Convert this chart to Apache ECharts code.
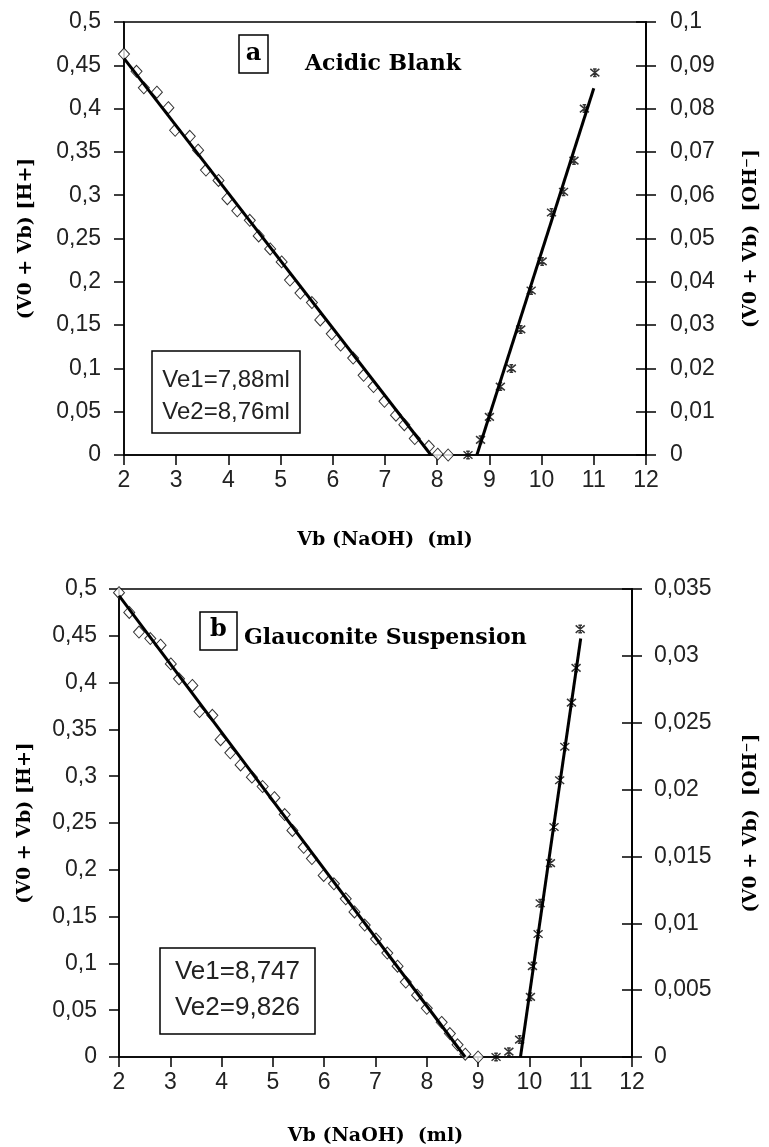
<!DOCTYPE html>
<html>
<head>
<meta charset="utf-8">
<script src="https://cdn.jsdelivr.net/npm/echarts@6/dist/echarts.min.js"></script>
<style>
html,body{margin:0;padding:0;background:#fff;}
#chart{width:769px;height:1147px;}
</style>
</head>
<body>
<div id="chart"></div>
<script>
// ---- data ----
var xTicks = [2,3,4,5,6,7,8,9,10,11,12];

// Chart a: Acidic Blank
var blankH = [[2.0,0.463],[2.24,0.443],[2.38,0.424],[2.63,0.419],[2.85,0.401],[2.98,0.375],[3.26,0.368],[3.42,0.352],[3.57,0.329],[3.81,0.317],[3.98,0.296],[4.17,0.282],[4.41,0.271],[4.58,0.253],[4.80,0.238],[5.02,0.223],[5.18,0.202],[5.38,0.187],[5.60,0.176],[5.76,0.156],[5.98,0.140],[6.15,0.127],[6.39,0.112],[6.59,0.092],[6.78,0.079],[6.99,0.062],[7.21,0.046],[7.37,0.035],[7.57,0.019],[7.84,0.010],[8.01,0.001],[8.21,0.0]];
var blankOH = [[8.59,0],[8.83,0.0035],[9.0,0.0088],[9.21,0.0158],[9.42,0.020],[9.60,0.029],[9.80,0.038],[10.01,0.0447],[10.19,0.056],[10.42,0.0608],[10.62,0.068],[10.82,0.080],[11.02,0.0883]];
var blankFitH = [[2,0.458],[7.88,0]];
var blankFitOH = [[8.76,0],[11,0.0847]];
var blankVe = ['Ve1=7,88ml','Ve2=8,76ml'];

// Chart b: Glauconite Suspension
var glauH = [[2.0,0.496],[2.20,0.475],[2.39,0.454],[2.61,0.447],[2.81,0.440],[3.01,0.420],[3.17,0.404],[3.43,0.397],[3.57,0.369],[3.82,0.365],[3.98,0.339],[4.17,0.325],[4.37,0.312],[4.59,0.299],[4.80,0.289],[5.03,0.277],[5.23,0.259],[5.38,0.242],[5.60,0.224],[5.76,0.212],[5.99,0.194],[6.19,0.185],[6.42,0.169],[6.59,0.155],[6.79,0.141],[7.01,0.126],[7.23,0.111],[7.43,0.097],[7.59,0.080],[7.81,0.066],[8.00,0.052],[8.29,0.037],[8.45,0.025],[8.60,0.013],[8.75,0.003],[9.0,0.0]];
var glauOH = [[9.35,0],[9.60,0.0004],[9.81,0.0013],[10.02,0.0045],[10.06,0.0068],[10.17,0.0092],[10.21,0.0115],[10.41,0.0145],[10.48,0.0172],[10.59,0.0207],[10.69,0.0232],[10.82,0.0265],[10.91,0.0291],[10.99,0.0320]];
var glauFitH = [[2,0.493],[8.747,0]];
var glauFitOH = [[9.826,0],[11,0.0313]];
var glauVe = ['Ve1=8,747','Ve2=9,826'];

var leftName = '(V0 + Vb) [H+]';
var rightName = '(V0 + Vb)  [OH\u207B]';
var xName = 'Vb (NaOH)  (ml)';

// ---- chart ----
var SANS = 'Liberation Sans';
var SERIF = 'DejaVu Serif';
function fmt(v){ return String(parseFloat(Number(v).toFixed(4))).replace('.', ','); }
var STAR = 'path://M0,0L10,10M10,0L0,10M5,-1L5,11M3,0L7,0M3,10L7,10';

function xAxis(gi, gap){
  return {
    type:'value', gridIndex:gi, min:2, max:12, interval:1,
    name:xName, nameLocation:'middle', nameGap:gap,
    nameTextStyle:{fontFamily:SERIF, fontWeight:'bold', fontSize:19, color:'#000'},
    axisLine:{show:true, onZero:false, lineStyle:{color:'#000', width:1.5}},
    axisTick:{show:true, length:10, lineStyle:{color:'#000', width:1.5}},
    axisLabel:{fontFamily:SANS, fontSize:23, color:'#222', margin:14},
    splitLine:{show:false}
  };
}
function yAxis(gi, pos, max, step, name, gap, labelShow, inside, margin){
  return {
    type:'value', gridIndex:gi, position:pos, min:0, max:max, interval:step,
    name: name || '', nameLocation:'middle', nameGap:gap || 0, nameRotate:90,
    nameTextStyle:{fontFamily:SERIF, fontWeight:'bold', fontSize:19, color:'#000'},
    axisLine:{show:true, lineStyle:{color:'#000', width:1.5}},
    axisTick:{show:true, inside:!!inside, length:10, lineStyle:{color:'#000', width:1.5}},
    axisLabel:{show:labelShow, formatter:fmt, fontFamily:SANS, fontSize:23, color:'#222', margin:margin || 22},
    splitLine:{show:false}
  };
}
function diamonds(data, xi, yi){
  return {type:'scatter', data:data, xAxisIndex:xi, yAxisIndex:yi, symbol:'diamond', symbolSize:[11,12],
    itemStyle:{color:'#fff', borderColor:'#000', borderWidth:1}, z:2, silent:true};
}
function stars(data, xi, yi){
  return {type:'scatter', data:data, xAxisIndex:xi, yAxisIndex:yi, symbol:STAR, symbolSize:9,
    itemStyle:{color:'none', borderColor:'#000', borderWidth:1.5}, z:2, silent:true};
}
function fit(data, xi, yi){
  return {type:'line', data:data, xAxisIndex:xi, yAxisIndex:yi, symbol:'none',
    lineStyle:{color:'#000', width:3}, z:3, silent:true};
}

var chart = echarts.init(document.getElementById('chart'), null, {renderer:'canvas'});
chart.setOption({
  animation:false,
  backgroundColor:'#fff',
  grid:[
    {left:124, top:22, width:530, height:433, show:true, borderColor:'#000', borderWidth:1.5, backgroundColor:'transparent'},
    {left:119, top:589, width:521, height:472, show:true, borderColor:'#000', borderWidth:1.5, backgroundColor:'transparent'}
  ],
  xAxis:[xAxis(0, 76), xAxis(1, 70)],
  yAxis:[
    yAxis(0,'left',0.5,0.05,leftName,88,true,false,23),
    yAxis(0,'right',0.1,0.01,rightName,96,true,false,24),
    yAxis(0,'right',0.1,0.01,'',0,false,true),
    yAxis(1,'left',0.5,0.05,leftName,84,true,false,22),
    yAxis(1,'right',0.035,0.005,rightName,110,true,false,22),
    yAxis(1,'right',0.035,0.005,'',0,false,true)
  ],
  series:[
    diamonds(blankH,0,0), stars(blankOH,0,1), fit(blankFitH,0,0), fit(blankFitOH,0,1),
    diamonds(glauH,1,3), stars(glauOH,1,4), fit(glauFitH,1,3), fit(glauFitOH,1,4)
  ],
  graphic:[
    {type:'rect', shape:{x:239,y:35,width:29,height:38}, style:{fill:'#fff', stroke:'#000', lineWidth:1.5}},
    {type:'text', x:253.5, y:54, style:{text:'a', font:'bold 24px "DejaVu Serif"', fill:'#000', textAlign:'center', textVerticalAlign:'middle'}},
    {type:'text', x:305, y:64, style:{text:'Acidic Blank', font:'bold 22px "DejaVu Serif"', fill:'#000', textAlign:'left', textVerticalAlign:'middle'}},
    {type:'rect', shape:{x:152,y:351,width:148,height:82}, style:{fill:'#fff', stroke:'#000', lineWidth:1.5}},
    {type:'text', x:226, y:380, style:{text:blankVe[0], font:'24px "Liberation Sans"', fill:'#222', textAlign:'center', textVerticalAlign:'middle'}},
    {type:'text', x:226, y:412, style:{text:blankVe[1], font:'24px "Liberation Sans"', fill:'#222', textAlign:'center', textVerticalAlign:'middle'}},
    {type:'rect', shape:{x:200,y:612,width:37,height:38}, style:{fill:'#fff', stroke:'#000', lineWidth:1.5}},
    {type:'text', x:218.5, y:630, style:{text:'b', font:'bold 24px "DejaVu Serif"', fill:'#000', textAlign:'center', textVerticalAlign:'middle'}},
    {type:'text', x:244, y:638, style:{text:'Glauconite Suspension', font:'bold 22px "DejaVu Serif"', fill:'#000', textAlign:'left', textVerticalAlign:'middle'}},
    {type:'rect', shape:{x:160,y:948,width:155,height:86}, style:{fill:'#fff', stroke:'#000', lineWidth:1.5}},
    {type:'text', x:237.5, y:972, style:{text:glauVe[0], font:'26px "Liberation Sans"', fill:'#222', textAlign:'center', textVerticalAlign:'middle'}},
    {type:'text', x:237.5, y:1008, style:{text:glauVe[1], font:'26px "Liberation Sans"', fill:'#222', textAlign:'center', textVerticalAlign:'middle'}}
  ]
});
</script>
</body>
</html>
